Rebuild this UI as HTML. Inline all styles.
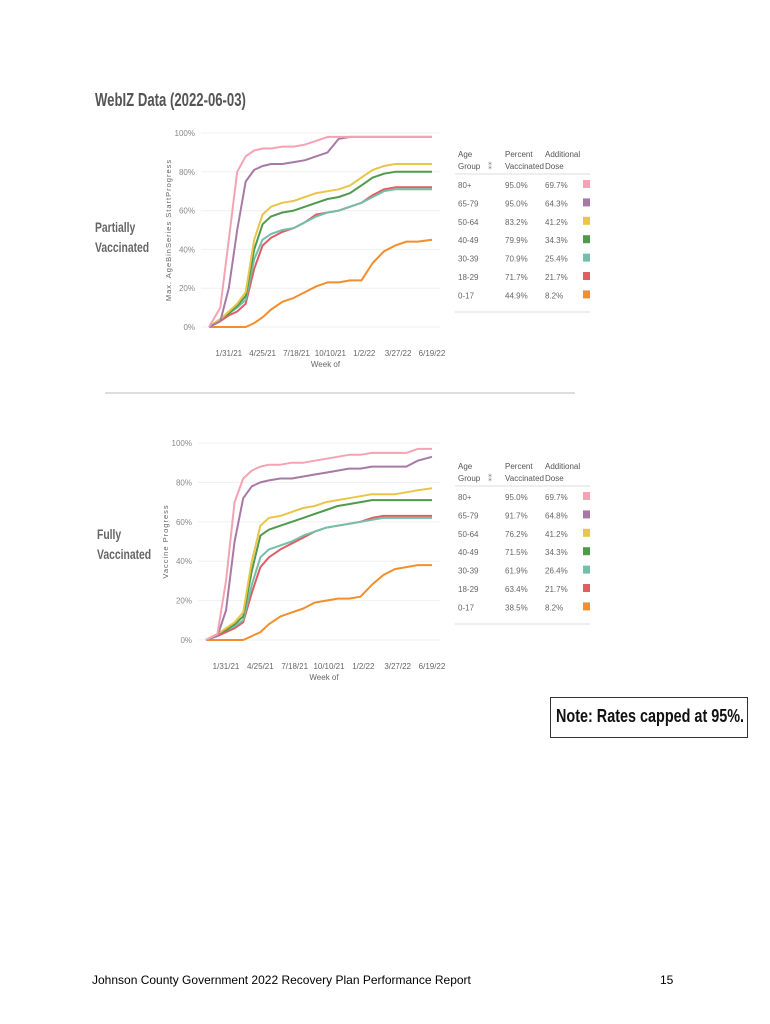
<!DOCTYPE html>
<html><head><meta charset="utf-8"><style>
body{margin:0;background:#fff;width:770px;height:1024px;position:relative;overflow:hidden;font-family:"Liberation Sans",sans-serif;}
.abs{position:absolute;}
.t{font-family:"Liberation Sans",sans-serif;}
.n{transform-origin:0 0;white-space:nowrap;}
</style></head><body>
<div class="abs n" style="left:95px;top:90px;font-size:18px;font-weight:bold;color:#555;transform:scaleX(0.73);">WebIZ Data (2022-06-03)</div>
<div class="abs n" style="left:95px;top:217px;font-size:14px;font-weight:bold;color:#666;line-height:20px;transform:scaleX(0.74);">Partially<br>Vaccinated</div>
<div class="abs n" style="left:97px;top:524px;font-size:14px;font-weight:bold;color:#666;line-height:20px;transform:scaleX(0.74);">Fully<br>Vaccinated</div>
<div class="abs" style="left:105px;top:392px;width:470px;height:2px;background:#ddd;"></div>
<svg class="abs" style="left:0;top:0" width="770" height="1024" id="svg"></svg>
<div class="abs" style="left:550px;top:697px;width:196px;height:39px;border:1px solid #333;"></div>
<div class="abs n" style="left:556px;top:706px;font-size:18px;font-weight:bold;color:#111;transform:scaleX(0.8);">Note: Rates capped at 95%.</div>
<div class="abs" style="left:92px;top:973px;font-size:12px;color:#000;">Johnson County Government 2022 Recovery Plan Performance Report</div>
<div class="abs" style="left:660px;top:973px;font-size:12px;color:#000;">15</div>
<script>
const weeks=[0,4,7,10,13,16,19,22,26,30,34,38,42,46,50,54,58,62,66,70,74,79];
const xTickLabelsTop=["1/31/21","4/25/21","7/18/21","10/10/21","1/2/22","3/27/22","6/19/22"];
const xTickLabelsBot=["1/31/21","4/25/21","7/18/21","10/10/21","1/2/22","3/27/22","6/19/22"];
const xTickWeeks=[7,19,31,43,55,67,79];
const yTicks=[0,20,40,60,80,100];
const ageGroups=["80+","65-79","50-64","40-49","30-39","18-29","0-17"];
const colors=["#f5a3b3","#a77aa5","#e9c548","#4f9a4d","#73bfa9","#e15c64","#f28e2b"];
const partialPct=["95.0%","95.0%","83.2%","79.9%","70.9%","71.7%","44.9%"];
const partialAdd=["69.7%","64.3%","41.2%","34.3%","25.4%","21.7%","8.2%"];
const fullPct=["95.0%","91.7%","76.2%","71.5%","61.9%","63.4%","38.5%"];
const fullAdd=["69.7%","64.8%","41.2%","34.3%","26.4%","21.7%","8.2%"];
const partial80=[0,10,45,80,88,91,92,92,93,93,94,96,98,98,98,98,98,98,98,98,98,98];
const partial65=[0,3,20,50,75,81,83,84,84,85,86,88,90,97,98,98,98,98,98,98,98,98];
const partial50=[0,4,8,12,18,45,58,62,64,65,67,69,70,71,73,77,81,83,84,84,84,84];
const partial40=[0,4,7,11,16,40,53,57,59,60,62,64,66,67,69,73,77,79,80,80,80,80];
const partial30=[0,4,7,10,14,35,45,48,50,51,54,57,59,60,62,64,67,70,71,71,71,71];
const partial18=[0,3,6,8,12,30,42,46,49,51,54,58,59,60,62,64,68,71,72,72,72,72];
const partial0=[0,0,0,0,0,2,5,9,13,15,18,21,23,23,24,24,33,39,42,44,44,45];
const full80=[0,3,30,70,82,86,88,89,89,90,90,91,92,93,94,94,95,95,95,95,97,97];
const full65=[0,2,15,50,72,78,80,81,82,82,83,84,85,86,87,87,88,88,88,88,91,93];
const full50=[0,3,6,9,14,40,58,62,63,65,67,68,70,71,72,73,74,74,74,75,76,77];
const full40=[0,3,5,8,12,35,53,56,58,60,62,64,66,68,69,70,71,71,71,71,71,71];
const full30=[0,3,5,7,10,28,42,46,48,50,53,55,57,58,59,60,61,62,62,62,62,62];
const full18=[0,2,4,6,9,24,37,42,46,49,52,55,57,58,59,60,62,63,63,63,63,63];
const full0=[0,0,0,0,0,2,4,8,12,14,16,19,20,21,21,22,28,33,36,37,38,38];

const NS="http://www.w3.org/2000/svg";
const svg=document.getElementById('svg');
function mk(tag,attrs,parent){const e=document.createElementNS(NS,tag);for(const k in attrs)e.setAttribute(k,attrs[k]);(parent||svg).appendChild(e);return e;}

function chart(cfg){
  const xs=w=>cfg.x0+(w/79)*(cfg.x1-cfg.x0);
  const ys=v=>cfg.yb+(v/100)*(cfg.yt-cfg.yb);
  const g=mk('g',{});
  
  
  yTicks.forEach(v=>{
    const l=mk('line',{x1:cfg.x0-8,x2:cfg.x1+8,y1:ys(v),y2:ys(v),stroke:'#f0f0f0'},g);
    
    const t=mk('text',{x:cfg.x0-14,y:ys(v)+3,'font-size':8,fill:'#888','text-anchor':'end'},g);
    t.textContent=v+'%';
  });
  cfg.ticks.forEach((lab,i)=>{
    const t=mk('text',{x:xs(xTickWeeks[i]),y:cfg.yb+29,'font-size':8,fill:'#666','text-anchor':'middle'},g);
    t.textContent=lab;
  });
  const xt=mk('text',{x:(cfg.x0+cfg.x1)/2+5,y:cfg.yb+40,'font-size':8,fill:'#666','text-anchor':'middle'},g);
  xt.textContent='Week of';
  const yt=mk('text',{x:0,y:0,'font-size':7.5,fill:'#666','text-anchor':'middle','letter-spacing':'1',transform:`translate(${cfg.x0-38},${(cfg.yt+cfg.yb)/2}) rotate(-90)`},g);
  yt.textContent=cfg.ytitle;
  for(let s=cfg.series.length-1;s>=0;s--){
    const d=cfg.series[s].map((v,i)=>(i?'L':'M')+xs(weeks[i]).toFixed(1)+' '+ys(v).toFixed(1)).join(' ');
    const p=mk('path',{d:d,fill:'none',stroke:colors[s],'stroke-width':2,'stroke-linejoin':'round'},g);
    
    
  }
  const tx=cfg.tx, ty=cfg.ty;
  const hdr=[["Age","Group"],["Percent","Vaccinated"],["Additional","Dose"]];
  [0,47,87].forEach((dx,i)=>{
    hdr[i].forEach((h,j)=>{const t=mk('text',{x:tx+dx,y:ty+j*12,'font-size':8,fill:'#555',class:'t'},g);t.textContent=h;
      });
  });
  const fi=mk('text',{x:tx+30,y:ty+12,'font-size':8,fill:'#777'},g);fi.textContent='⁑';
  
  mk('line',{x1:tx-3,x2:tx+132,y1:ty+17,y2:ty+17,stroke:'#ddd'},g);
  ageGroups.forEach((a,i)=>{
    const y=ty+31+i*18.4;
    [[a,0],[cfg.pct[i],47],[cfg.add[i],87]].forEach(([v,dx])=>{
      const t=mk('text',{x:tx+dx,y:y,'font-size':8,fill:'#666',class:'t'},g);t.textContent=v;
      });
    const r=mk('rect',{x:tx+125,y:y-8,width:7,height:8,fill:colors[i]},g);
    
  });
  mk('line',{x1:tx-3,x2:tx+132,y1:ty+155,y2:ty+155,stroke:'#ddd'},g);
}
chart({name:'partially-vaccinated-chart',x0:209,x1:432,yt:133,yb:327,ticks:xTickLabelsTop,
  ytitle:'Max. AgeBinSeries StartProgress',
  series:[partial80,partial65,partial50,partial40,partial30,partial18,partial0],
  tx:458,ty:157,pct:partialPct,add:partialAdd});
chart({name:'fully-vaccinated-chart',x0:206,x1:432,yt:443,yb:640,ticks:xTickLabelsBot,
  ytitle:'Vaccine Progress',
  series:[full80,full65,full50,full40,full30,full18,full0],
  tx:458,ty:469,pct:fullPct,add:fullAdd});
</script>
</body></html>
